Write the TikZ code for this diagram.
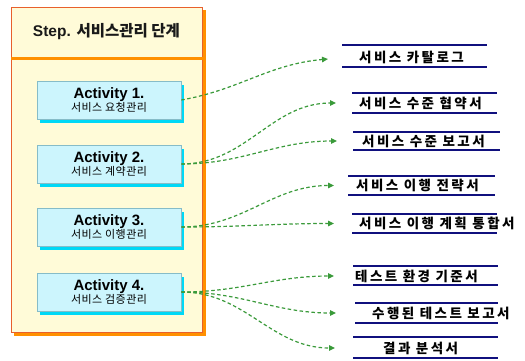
\documentclass[tikz,border=0pt]{standalone}
\usepackage{fontspec}
\setmainfont{Liberation Sans}
\newfontfamily\kr{Noto Sans CJK KR}
\newfontfamily\krsp[LetterSpace=18]{Noto Sans CJK KR}
\usetikzlibrary{arrows.meta}
\definecolor{outerfill}{HTML}{FFFBD8}
\definecolor{outerline}{HTML}{E8602C}
\definecolor{orshadow}{HTML}{FF9000}
\definecolor{actfill}{HTML}{CCF5FD}
\definecolor{actline}{HTML}{86BCC8}
\definecolor{actshadow}{HTML}{00D8F6}
\definecolor{arrgreen}{HTML}{3A9A3A}
\definecolor{navy}{HTML}{10107E}
\tikzset{
  outerbox/.style={draw=outerline, line width=0.8pt, fill=outerfill, anchor=north west, inner sep=0pt},
  actbox/.style={draw=actline, line width=0.6pt, fill=actfill, minimum width=144pt, minimum height=38pt, inner sep=0pt, align=center},
  actshad/.style={fill=actshadow},
  doctext/.style={font=\krsp\bfseries\fontsize{13.5}{15}\selectfont, inner sep=0pt, anchor=west},
  docline/.style={draw=navy, line width=1.8pt},
  arr/.style={draw=arrgreen, line width=1.2pt, dash pattern=on 3.5pt off 2.5pt, -{Triangle[length=6pt,width=5.5pt]}},
}
\newcommand{\acttext}[2]{{\bfseries\fontsize{15}{16}\selectfont #1}\\[-1pt]{\kr\fontsize{11}{13}\selectfont\addfontfeature{LetterSpace=4}#2}}
\begin{document}
\begin{tikzpicture}[x=1pt,y=-1pt]
\useasboundingbox (0,0) rectangle (525,360);
% outer frame
\fill[orshadow] (14,10) rectangle (205.5,335.5);
\node[outerbox, minimum width=191pt, minimum height=325pt] (outer) at (11,7) {};
\draw[orshadow, line width=3pt] (11.4,58.5) -- (203,58.5);
\node[font=\bfseries\fontsize{15.5}{17}\selectfont, text=black!90] (hdr) at (106.5,32) {Step. {\kr\bfseries 서비스관리 단계}};
% activity boxes
\foreach \y in {100,164,227,292} {\fill[actshad] (40,\y-19+4) rectangle (184,\y+19+4);}
\node[actbox] (a1) at (109,100) {\acttext{Activity 1.}{서비스 요청관리}};
\node[actbox] (a2) at (109,164) {\acttext{Activity 2.}{서비스 계약관리}};
\node[actbox] (a3) at (109,227) {\acttext{Activity 3.}{서비스 이행관리}};
\node[actbox] (a4) at (109,292) {\acttext{Activity 4.}{서비스 검증관리}};
% documents
\draw[docline] (342,45) -- (487,45);  \draw[docline] (342,67) -- (487,67);
\node[doctext] (d1) at (359,57.5) {서비스 카탈로그};
\draw[docline] (352,93) -- (497,93);  \draw[docline] (352,113) -- (497,113);
\node[doctext] (d2) at (359,103) {서비스 수준 협약서};
\draw[docline] (353,132) -- (500,132); \draw[docline] (353,150) -- (500,150);
\node[doctext] (d3) at (362,141) {서비스 수준 보고서};
\draw[docline] (348,176) -- (495,176); \draw[docline] (348,195) -- (495,195);
\node[doctext] (d4) at (356,185.5) {서비스 이행 전략서};
\draw[docline] (352,214) -- (497,214); \draw[docline] (352,233) -- (497,233);
\node[doctext] (d5) at (359,223.5) {서비스 이행 계획 통합서};
\draw[docline] (353,266) -- (498,266); \draw[docline] (353,285) -- (498,285);
\node[doctext] (d6) at (355,276) {테스트 환경 기준서};
\draw[docline] (355,303) -- (498,303); \draw[docline] (355,323) -- (498,323);
\node[doctext] (d7) at (372,313) {수행된 테스트 보고서};
\draw[docline] (353,337) -- (498,337); \draw[docline] (353,358) -- (498,358);
\node[doctext] (d8) at (383,348) {결과 분석서};
% arrow tips
\coordinate (t1) at (328,59);
\coordinate (t2) at (336,103);
\coordinate (t3) at (337,141);
\coordinate (t4) at (334,185.5);
\coordinate (t5) at (334,223.5);
\coordinate (t6) at (334,276);
\coordinate (t7) at (336,313);
\coordinate (t8) at (335,348);
% arrows
\draw[arr] (a1.east) to[out=10,in=185] (t1);
\draw[arr] (a2.east) to[out=0,in=180] (t2);
\draw[arr] (a2.east) to[out=0,in=180] (t3);
\draw[arr] (a3.east) to[out=0,in=180] (t4);
\draw[arr] (a3.east) to[out=0,in=180] (t5);
\draw[arr] (a4.east) to[out=0,in=180] (t6);
\draw[arr] (a4.east) to[out=0,in=180] (t7);
\draw[arr] (a4.east) to[out=0,in=180] (t8);
\end{tikzpicture}
\end{document}
